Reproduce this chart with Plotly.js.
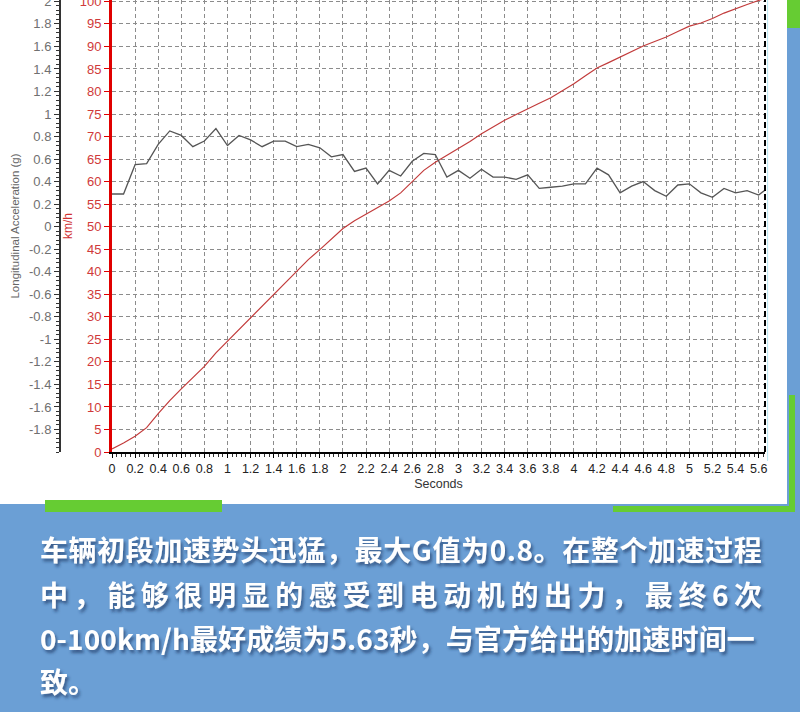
<!DOCTYPE html>
<html>
<head>
<meta charset="utf-8">
<script src="https://cdn.plot.ly/plotly-3.0.1.min.js"></script>
<style>
  html, body { margin: 0; padding: 0; background: #6b9fd5; }
  #chart { width: 800px; height: 712px; }
</style>
</head>
<body>
<div id="chart"></div>
<script>
// time axis (seconds) at ~0.1 s steps
var seconds = [0, 0.1, 0.2, 0.3, 0.4, 0.5, 0.6, 0.7, 0.8, 0.9,
  1.0, 1.1, 1.2, 1.3, 1.4, 1.5, 1.6, 1.7, 1.8, 1.9,
  2.0, 2.1, 2.2, 2.3, 2.4, 2.5, 2.6, 2.7, 2.8, 2.9,
  3.0, 3.1, 3.2, 3.3, 3.4, 3.5, 3.6, 3.7, 3.8, 3.9,
  4.0, 4.1, 4.2, 4.3, 4.4, 4.5, 4.6, 4.7, 4.8, 4.9,
  5.0, 5.1, 5.2, 5.3, 5.4, 5.5, 5.6, 5.65];

// speed, km/h (red line)
var speedKmh = [0.7, 2.0, 3.5, 5.4, 8.5, 11.4, 14.0, 16.6, 19.0, 22.0,
  24.6, 27.3, 29.9, 32.4, 35.0, 37.5, 40.2, 42.7, 44.9, 47.2,
  49.6, 51.3, 52.8, 54.2, 55.7, 57.5, 60.1, 62.5, 64.3, 65.8,
  67.4, 68.9, 70.6, 72.1, 73.6, 74.9, 76.2, 77.4, 78.6, 80.1,
  81.7, 83.5, 85.2, 86.4, 87.6, 88.9, 90.1, 91.1, 92.1, 93.3,
  94.5, 95.2, 96.2, 97.4, 98.4, 99.3, 100.2, 100.6];

// longitudinal acceleration, g (grey line)
var accelG = [0.29, 0.29, 0.55, 0.56, 0.73, 0.85, 0.81, 0.71, 0.76, 0.87,
  0.72, 0.81, 0.77, 0.71, 0.76, 0.76, 0.71, 0.73, 0.70, 0.62,
  0.64, 0.49, 0.52, 0.38, 0.50, 0.45, 0.58, 0.65, 0.64, 0.44,
  0.50, 0.43, 0.51, 0.44, 0.44, 0.42, 0.46, 0.34, 0.35, 0.36,
  0.38, 0.38, 0.52, 0.46, 0.30, 0.36, 0.40, 0.32, 0.27, 0.37,
  0.38, 0.30, 0.26, 0.34, 0.30, 0.32, 0.28, 0.32];

// g axis labels (no label at -2)
var gTickVals = [-1.8, -1.6, -1.4, -1.2, -1, -0.8, -0.6, -0.4, -0.2, 0,
  0.2, 0.4, 0.6, 0.8, 1, 1.2, 1.4, 1.6, 1.8, 2];
var gTickText = ['-1.8', '-1.6', '-1.4', '-1.2', '-1', '-0.8', '-0.6', '-0.4', '-0.2', '0',
  '0.2', '0.4', '0.6', '0.8', '1', '1.2', '1.4', '1.6', '1.8', '2'];

var captionLines = [
  '车辆初段加速势头迅猛，最大G值为0.8。在整个加速过程',
  '中，能够很明显的感受到电动机的出力，最终6次',
  '0-100km/h最好成绩为5.63秒，与官方给出的加速时间一',
  '致。'
];

var W = 800, H = 712, plotH = 452;
function px(x) { return x / W; }
function py(y) { return (plotH - y) / plotH; }

var tickFont = 'Liberation Sans, Arial, sans-serif';
var gridDash = '4px,3px';

var speedTrace = {
  x: seconds, y: speedKmh, yaxis: 'y',
  type: 'scatter', mode: 'lines',
  line: { color: '#c23b3b', width: 1.2 },
  name: 'km/h'
};

var accelTrace = {
  x: seconds, y: accelG, yaxis: 'y2',
  type: 'scatter', mode: 'lines',
  line: { color: '#555555', width: 1.3 },
  name: 'g'
};

// caption under the chart
var captionY = [549, 594, 638, 681];
var captionSpacing = ['0.6px', '5.6px', '0.1px', '0px'];
var annotations = captionLines.map(function (line, i) {
  return {
    xref: 'paper', yref: 'paper', x: px(38), y: py(captionY[i]),
    xanchor: 'left', yanchor: 'middle', showarrow: false,
    text: '<span style="letter-spacing:' + captionSpacing[i] + '">' + line + '</span>',
    font: { family: 'Noto Sans CJK SC', size: 28, weight: 'bold', color: '#ffffff' }
  };
});

var shapes = [
  // white panel behind the chart
  { type: 'rect', xref: 'paper', yref: 'paper', layer: 'below',
    x0: 0, x1: px(787), y0: py(504), y1: py(-5),
    fillcolor: '#ffffff', line: { width: 0 } },
  // green bars
  { type: 'rect', xref: 'paper', yref: 'paper', layer: 'below',
    x0: px(45), x1: px(222), y0: py(512), y1: py(500),
    fillcolor: '#66cc33', line: { width: 0 } },
  { type: 'rect', xref: 'paper', yref: 'paper', layer: 'below',
    x0: px(789), x1: px(795), y0: py(512), y1: py(395),
    fillcolor: '#66cc33', line: { width: 0 } },
  { type: 'rect', xref: 'paper', yref: 'paper', layer: 'below',
    x0: px(613), x1: px(795), y0: py(512), y1: py(506),
    fillcolor: '#66cc33', line: { width: 0 } },
  { type: 'rect', xref: 'paper', yref: 'paper', layer: 'below',
    x0: px(787), x1: px(801), y0: py(28), y1: py(-5),
    fillcolor: '#66cc33', line: { width: 0 } },
  // right border of the plot
  { type: 'line', xref: 'x domain', yref: 'y domain', layer: 'above',
    x0: 1, x1: 1, y0: 0, y1: 1,
    line: { color: '#000000', width: 2, dash: '6px,3px' } },
  { type: 'line', xref: 'x domain', yref: 'y domain', layer: 'above',
    x0: 1.004, x1: 1.004, y0: -0.02, y1: 1,
    line: { color: '#b8e6f2', width: 1 } }
];

var layout = {
  width: W, height: H,
  margin: { l: 0, r: 0, t: 0, b: H - plotH, pad: 0 },
  paper_bgcolor: '#6b9fd5',
  plot_bgcolor: '#ffffff',
  showlegend: false,
  hovermode: false,
  xaxis: {
    domain: [px(112), px(765)],
    range: [0, 5.655],
    tickmode: 'linear', tick0: 0, dtick: 0.2, tickangle: 0,
    showgrid: true, gridcolor: '#8c8c8c', gridwidth: 1, griddash: gridDash,
    zeroline: false,
    showline: true, linecolor: '#000000', linewidth: 2,
    ticks: 'outside', ticklen: 4, tickcolor: '#000000',
    minor: { dtick: 0.04, ticks: 'outside', ticklen: 3, tickcolor: '#333333', showgrid: false },
    tickfont: { family: tickFont, size: 12.5, color: '#222222' },
    title: { text: 'Seconds', standoff: 4, font: { family: tickFont, size: 12.5, color: '#333333' } }
  },
  yaxis: {
    range: [0, 100.3],
    tickmode: 'linear', tick0: 0, dtick: 5,
    ticklabeloverflow: 'allow',
    showgrid: true, gridcolor: '#8c8c8c', gridwidth: 1, griddash: gridDash,
    zeroline: false,
    showline: true, linecolor: '#e00000', linewidth: 3,
    ticks: 'outside', ticklen: 5, tickcolor: '#e00000',
    tickfont: { family: tickFont, size: 13, color: '#d03a3a' },
    title: { text: 'km/h', standoff: 5, font: { family: tickFont, size: 12, color: '#d03030' } }
  },
  yaxis2: {
    overlaying: 'y', anchor: 'free', position: px(60), side: 'left',
    range: [-2, 2.012],
    tickmode: 'array', tickvals: gTickVals, ticktext: gTickText,
    ticklabeloverflow: 'allow',
    showgrid: false, zeroline: false,
    showline: true, linecolor: '#333333', linewidth: 2,
    ticks: 'outside', ticklen: 5, tickcolor: '#333333',
    minor: { dtick: 0.04, ticks: 'outside', ticklen: 3, tickcolor: '#333333', showgrid: false },
    tickfont: { family: tickFont, size: 13, color: '#707070' },
    title: { text: 'Longitudinal Acceleration (g)', standoff: 6, font: { family: tickFont, size: 11.5, color: '#666666' } }
  },
  shapes: shapes,
  annotations: annotations
};

Plotly.newPlot('chart', [speedTrace, accelTrace], layout, { staticPlot: true, displayModeBar: false })
  .then(function (gd) {
    // drop shadow under the caption, filter lives inside plotly's own svg
    var svg = gd.querySelector('svg.main-svg');
    var ns = 'http://www.w3.org/2000/svg';
    var defs = svg.querySelector('defs') || svg.insertBefore(document.createElementNS(ns, 'defs'), svg.firstChild);
    var f = document.createElementNS(ns, 'filter');
    f.setAttribute('id', 'capShadow');
    f.setAttribute('x', '-5%'); f.setAttribute('y', '-30%');
    f.setAttribute('width', '115%'); f.setAttribute('height', '170%');
    var ds = document.createElementNS(ns, 'feDropShadow');
    ds.setAttribute('dx', '2'); ds.setAttribute('dy', '3');
    ds.setAttribute('stdDeviation', '1.6');
    ds.setAttribute('flood-color', '#1c3462');
    ds.setAttribute('flood-opacity', '0.65');
    f.appendChild(ds);
    defs.appendChild(f);
    gd.querySelectorAll('.annotation-text').forEach(function (t) {
      t.setAttribute('filter', 'url(#capShadow)');
    });
  });
</script>
</body>
</html>
